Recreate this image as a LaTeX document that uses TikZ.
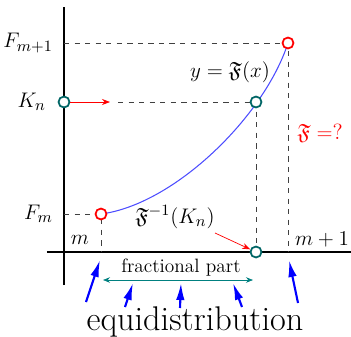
\documentclass[tikz,border=0pt]{standalone}
\usepackage{amssymb}
\usetikzlibrary{arrows.meta}

\begin{document}
\begin{tikzpicture}[
  axis/.style={line width=1pt},
  guide/.style={dashed, black!75, line width=0.5pt},
  redpt/.style={circle, draw=red, line width=1pt, fill=white, inner sep=0pt, minimum size=2.2mm},
  tealpt/.style={circle, draw=teal!80!black, line width=1pt, fill=white, inner sep=0pt, minimum size=2.2mm},
  redarr/.style={red, -{Stealth[length=1.6mm,width=1.2mm]}},
  bluearr/.style={blue, line width=1.2pt, -{Latex[length=3.4mm,width=1.7mm]}},
  lbl/.style={font=\fontsize{11}{13}\selectfont},
  mlbl/.style={font=\fontsize{12.5}{15}\selectfont}
]
  \useasboundingbox (-1.28,-1.68) rectangle (5.74,5.04);

  % 座標軸
  \coordinate (xl) at (-0.34,0);
  \coordinate (xr) at (5.74,0);
  \coordinate (yb) at (0,-0.66);
  \coordinate (yt) at (0,4.9);
  \draw[axis] (xl) -- (xr);
  \draw[axis] (yb) -- (yt);

  % 点
  \coordinate (pm) at (0.74,0.76);
  \coordinate (pk) at (3.84,3.0);
  \coordinate (pt) at (4.48,4.18);
  \coordinate (ym) at (0,0.76);
  \coordinate (yk) at (0,3.0);
  \coordinate (yt1) at (0,4.18);
  \coordinate (xm) at (0.74,0);
  \coordinate (xk) at (3.84,0);
  \coordinate (xt) at (4.48,0);
  \coordinate (ks) at (1.08,3.0);
  \coordinate (ka) at (0.92,3.0);
  \coordinate (fa) at (3.02,0.38);

  % 補助線
  \draw[guide] (ym) -- (pm) -- (xm);
  \draw[guide] (yt1) -- (pt) -- (xt);
  \draw[guide] (ks) -- (pk) -- (xk);

  % 曲線 y = F(x)
  \draw[blue!70, line width=0.6pt] (pm) .. controls (2.2,0.95) and (4.0,2.7) .. (pt);

  % 円
  \node[redpt] (nm) at (pm) {};
  \node[redpt] (nt) at (pt) {};
  \node[tealpt] (nk) at (pk) {};
  \node[tealpt] (nky) at (yk) {};
  \node[tealpt] (nkx) at (xk) {};

  % 赤い矢印
  \draw[redarr] (nky) -- (ka);
  \draw[redarr] (fa) -- (nkx);

  % ラベル
  \node[mlbl, anchor=east] (lfa) at (-0.1,4.18) {$F_{m+1}$};
  \node[mlbl, anchor=east] (lkn) at (-0.24,3.0) {$K_n$};
  \node[mlbl, anchor=east] (lfm) at (-0.1,0.76) {$F_m$};
  \node[mlbl] (lm) at (0.32,0.24) {$m$};
  \node[mlbl] (lma) at (5.16,0.24) {$m+1$};
  \node[mlbl] (lcurve) at (3.32,3.6) {$y=\mathfrak{F}(x)$};
  \node[mlbl, red] (lq) at (5.12,2.38) {$\mathfrak{F} =$?};
  \node[mlbl] (finv) at (2.22,0.70) {$\mathfrak{F}^{-1}(K_n)$};

  % 小数部分
  \coordinate (fl) at (0.78,-0.56);
  \coordinate (fr) at (3.78,-0.56);
  \draw[teal, {Stealth[length=1.4mm,width=1.1mm]}-{Stealth[length=1.4mm,width=1.1mm]}] (fl) -- (fr);
  \node[lbl] (lfrac) at (2.34,-0.32) {fractional part};

  % 一様分布の矢印
  \foreach \a/\b/\c/\d [count=\i] in {0.44/-1.0/0.72/-0.16, 1.22/-1.1/1.38/-0.62,
      2.32/-1.12/2.34/-0.62, 3.56/-1.1/3.38/-0.62, 4.68/-1.02/4.5/-0.16}{
    \coordinate (t\i) at (\a,\b);
    \coordinate (h\i) at (\c,\d);
    \draw[bluearr] (t\i) -- (h\i);
  }
  \node[font=\fontsize{19.5}{23}\selectfont, anchor=base] (leq) at (2.62,-1.56) {equidistribution};
\end{tikzpicture}
\end{document}
